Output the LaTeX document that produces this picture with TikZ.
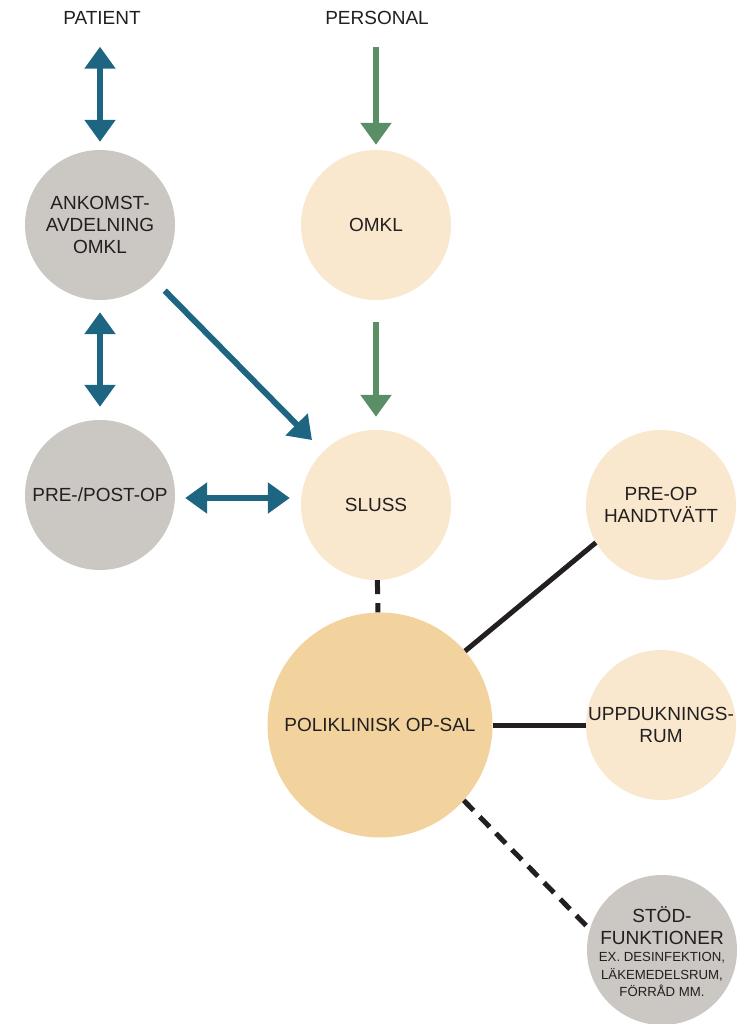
\documentclass[tikz,border=0pt]{standalone}
\usepackage{fontspec}
\setmainfont{Liberation Sans}
\usetikzlibrary{arrows.meta}
\definecolor{greycirc}{HTML}{CBC7C2}
\definecolor{creamcirc}{HTML}{F9E8CE}
\definecolor{goldcirc}{HTML}{F2D39E}
\definecolor{flowblue}{HTML}{1D6580}
\definecolor{flowgreen}{HTML}{5A8F66}
\definecolor{inktext}{HTML}{231F20}
\newcommand{\smalltxt}{\fontsize{13.2}{17.5}\selectfont}
\begin{document}
\begin{tikzpicture}[x=1pt,y=-1pt,
  every node/.style={text=inktext, font=\fontsize{19}{22}\selectfont, align=center, inner sep=0pt},
  room/.style={circle, minimum size=150pt},
  grey/.style={room, fill=greycirc},
  cream/.style={room, fill=creamcirc},
  bigroom/.style={circle, minimum size=225pt, fill=goldcirc},
  bluearrow/.style={draw=flowblue, line width=6pt,
    arrows={-Triangle[width=30pt,length=22pt]}},
  bluedouble/.style={draw=flowblue, line width=6pt,
    arrows={Triangle[width=30pt,length=22pt]-Triangle[width=30pt,length=22pt]}},
  greenarrow/.style={draw=flowgreen, line width=6pt,
    arrows={-Triangle[width=30pt,length=22pt]}},
  solidlink/.style={draw=inktext, line width=5pt},
  dashlink/.style={draw=inktext, line width=5pt, dash pattern=on 14pt off 9pt},
]
\useasboundingbox (0,0) rectangle (740,1024);

% labels at the top
\node (patient)  at (102,18) {PATIENT};
\node (personal) at (377,18) {PERSONAL};

% rooms
\node[grey]  (ank)  at (100,225) {ANKOMST-\\AVDELNING\\OMKL};
\node[cream] (omkl) at (376,225) {OMKL};
\node[grey]  (pre)  at (100,495) {PRE-/POST-OP};
\node[cream] (sluss) at (376,505) {SLUSS};
\node[bigroom] (poli) at (380,725) {POLIKLINISK OP-SAL};
\node[cream] (hand) at (661,505) {PRE-OP\\HANDTVÄTT};
\node[cream] (upp)  at (661,725) {UPPDUKNINGS-\\RUM};
\node[grey, inner sep=-20pt] (stod) at (662,950) {};
\node (stodtext) at (662,952) {STÖD-\\FUNKTIONER\\[-5pt]\smalltxt EX. DESINFEKTION,\\[-4.5pt]\smalltxt LÄKEMEDELSRUM,\\[-4.5pt]\smalltxt FÖRRÅD MM.};

% patient flow
\draw[bluedouble, shorten <=22pt, shorten >=8pt] (ank.north |- patient.south) -- (ank);
\draw[bluedouble, shorten <=12pt, shorten >=13pt] (ank) -- (pre);
\draw[bluearrow, shorten <=17pt, shorten >=16pt] (ank) -- (sluss);
\draw[bluedouble, shorten <=10pt, shorten >=11pt]
  ([yshift=-3pt]pre.east) -- ([yshift=-3pt]pre.east -| sluss.west);

% staff flow
\draw[greenarrow, shorten <=22pt, shorten >=5pt] (omkl.north |- personal.south) -- (omkl);
\draw[greenarrow, shorten <=22pt, shorten >=13pt] (omkl) -- (sluss);

% links from the operating room
\draw[dashlink] (sluss) -- (poli);
\draw[solidlink] (poli.41) -- (hand.210);
\draw[solidlink] (poli) -- (upp);
\draw[dashlink] (poli.-42) -- (stod.164);
\end{tikzpicture}
\end{document}
